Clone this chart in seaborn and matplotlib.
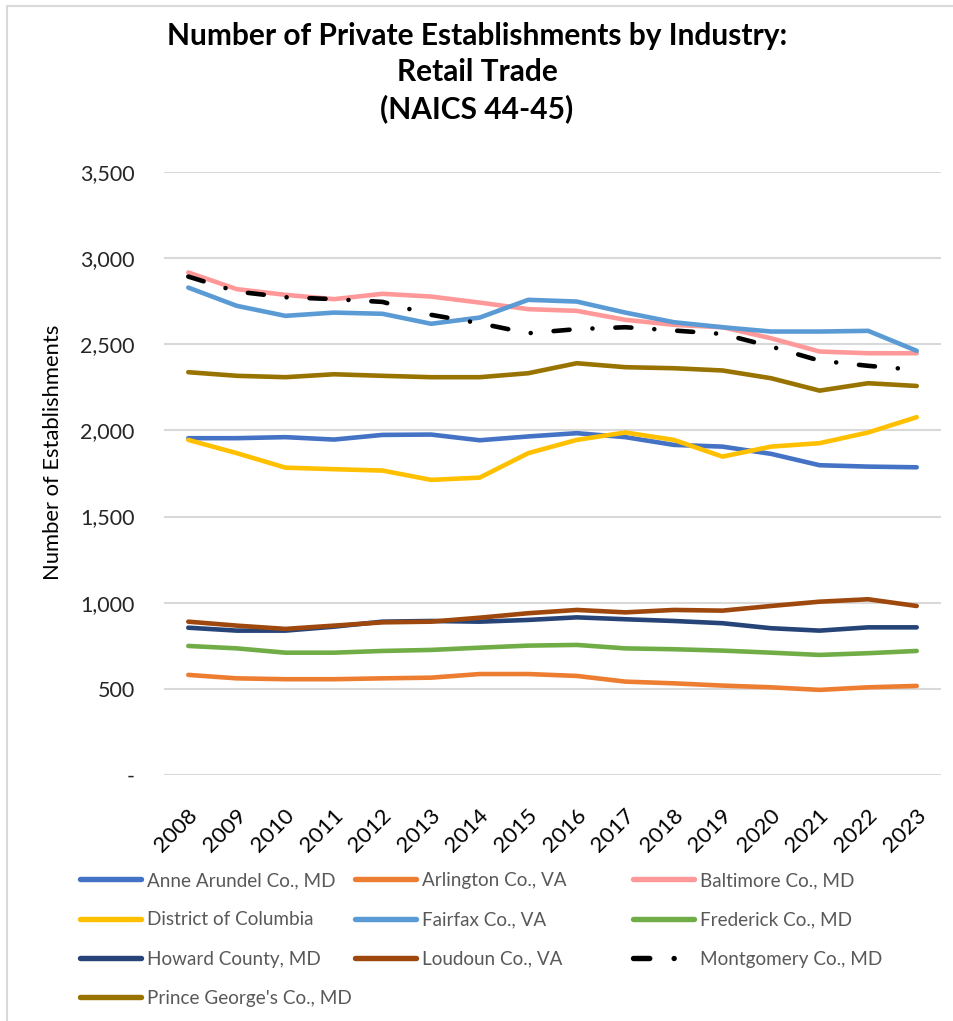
import matplotlib
matplotlib.use("Agg")
import matplotlib.pyplot as plt
import matplotlib.transforms as mtransforms
from matplotlib.lines import Line2D
from matplotlib.ticker import FuncFormatter
import numpy as np
import pandas as pd
import seaborn as sns

years = list(range(2008, 2024))

anne_arundel = [1955, 1955, 1961, 1947, 1974, 1976, 1943, 1965, 1984, 1961, 1916, 1906, 1864, 1798, 1790, 1786]
arlington = [581, 561, 556, 556, 561, 565, 586, 586, 575, 542, 532, 519, 509, 494, 509, 517]
baltimore = [2917, 2820, 2787, 2762, 2793, 2777, 2742, 2704, 2694, 2642, 2613, 2599, 2535, 2458, 2448, 2448]
district_of_columbia = [1945, 1868, 1784, 1775, 1767, 1713, 1726, 1868, 1945, 1988, 1945, 1848, 1906, 1926, 1988, 2077]
fairfax = [2829, 2723, 2665, 2684, 2677, 2619, 2655, 2758, 2748, 2684, 2628, 2599, 2574, 2574, 2578, 2462]
frederick = [749, 735, 710, 710, 720, 726, 739, 751, 755, 735, 730, 722, 710, 697, 707, 720]
howard = [855, 838, 838, 861, 890, 894, 890, 900, 915, 904, 894, 881, 852, 838, 857, 857]
loudoun = [890, 867, 848, 867, 886, 890, 913, 939, 958, 944, 958, 954, 981, 1006, 1020, 981]
montgomery = [2893, 2806, 2773, 2762, 2746, 2671, 2622, 2564, 2588, 2599, 2580, 2560, 2487, 2405, 2375, 2351]
prince_georges = [2338, 2317, 2309, 2326, 2317, 2309, 2309, 2332, 2390, 2367, 2361, 2348, 2303, 2231, 2274, 2258]

series_names = [
    "Anne Arundel Co., MD", "Arlington Co., VA", "Baltimore Co., MD",
    "District of Columbia", "Fairfax Co., VA", "Frederick Co., MD",
    "Howard County, MD", "Loudoun Co., VA", "Montgomery Co., MD",
    "Prince George's Co., MD",
]
series_values = [
    anne_arundel, arlington, baltimore, district_of_columbia, fairfax,
    frederick, howard, loudoun, montgomery, prince_georges,
]
series_colors = [
    "#4472C4", "#ED7D31", "#FF9999", "#FFC000", "#5B9BD5",
    "#70AD47", "#264478", "#9E480E", "#000000", "#997300",
]
y_ticks = [0, 500, 1000, 1500, 2000, 2500, 3000, 3500]

title_text = "Number of Private Establishments by Industry:\nRetail Trade\n(NAICS 44-45)"
y_label = "Number of Establishments"

df = pd.DataFrame({
    "Year": np.tile(years, len(series_names)),
    "County": np.repeat(series_names, len(years)),
    "Establishments": np.concatenate(series_values),
})

sns.set_theme(style="white")
plt.rcParams["font.family"] = ["Lato", "DejaVu Sans"]

W, H = 954, 1021
fig = plt.figure(figsize=(W / 100, H / 100), dpi=100)
ax = fig.add_axes([164 / W, 1 - 775 / H, (941 - 164) / W, (775 - 172) / H])

LW = 3.3
dash_pattern = (3.5, 5.0, 0.01, 5.0)
handles = {}
for name, color in zip(series_names, series_colors):
    sub = df[df["County"] == name]
    sns.lineplot(data=sub, x="Year", y="Establishments", color=color,
                 linewidth=LW, ax=ax, legend=False)
    line = ax.lines[-1]
    line.set_solid_capstyle("round")
    line.set_solid_joinstyle("round")
    if name == "Montgomery Co., MD":
        line.set_dashes(dash_pattern)
        line.set_dash_capstyle("round")
    handle = Line2D([], [], color=color, linewidth=LW + 0.6,
                    solid_capstyle="round", dash_capstyle="round")
    if name == "Montgomery Co., MD":
        handle.set_dashes((3.0, 4.5, 0.01, 20))
    handles[name] = handle

ax.set_xlim(years[0] - 0.5, years[-1] + 0.5)
ax.set_ylim(0, 3500)
ax.set_yticks(y_ticks)
ax.set_xticks(years)
ax.yaxis.set_major_formatter(FuncFormatter(lambda v, p: "-" if v == 0 else f"{int(v):,}"))
ax.grid(axis="y", color="#D9D9D9", linewidth=1.5)
ax.grid(axis="x", visible=False)
ax.set_axisbelow(True)
for s in ax.spines.values():
    s.set_visible(False)
ax.tick_params(axis="y", length=0, pad=21, labelsize=15.5, labelcolor="#262626")
ax.tick_params(axis="x", length=0, pad=27, labelsize=16, labelcolor="#000000")
ax.set_xlabel("")
ax.set_ylabel(y_label, fontsize=15.8, color="#000000")
ax.yaxis.set_label_coords((63 - 164) / (941 - 164), (775 - 452) / (775 - 172))

offset = mtransforms.ScaledTranslation(6 / 100, 0, fig.dpi_scale_trans)
for lab in ax.get_xticklabels():
    lab.set_rotation(45)
    lab.set_ha("right")
    lab.set_va("center")
    lab.set_rotation_mode("anchor")
    lab.set_transform(lab.get_transform() + offset)

fig.text(0.5, 1 - 22 / H, title_text, ha="center", va="top", fontsize=21.5,
         fontweight="bold", color="#000000", linespacing=1.34)

# legend, filled row by row in three columns
columns = [
    (80, ["Anne Arundel Co., MD", "District of Columbia", "Howard County, MD", "Prince George's Co., MD"]),
    (355, ["Arlington Co., VA", "Fairfax Co., VA", "Loudoun Co., VA"]),
    (633, ["Baltimore Co., MD", "Frederick Co., MD", "Montgomery Co., MD"]),
]
for x0, names in columns:
    leg = fig.legend([handles[n] for n in names], names, loc="upper left",
                     bbox_to_anchor=(x0 / W, 1 - 872 / H), frameon=False,
                     fontsize=13.6, handlelength=3.25, handletextpad=0.3,
                     labelspacing=1.18, borderpad=0, borderaxespad=0)
    for t in leg.get_texts():
        t.set_color("#595959")

# chart frame
fig.add_artist(Line2D([7 / W, 1], [1 - 6 / H, 1 - 6 / H], transform=fig.transFigure,
                      color="#D9D9D9", linewidth=1.5))
fig.add_artist(Line2D([7 / W, 7 / W], [0, 1 - 6 / H], transform=fig.transFigure,
                      color="#D9D9D9", linewidth=1.5))

fig.savefig("out.png", dpi=100)
